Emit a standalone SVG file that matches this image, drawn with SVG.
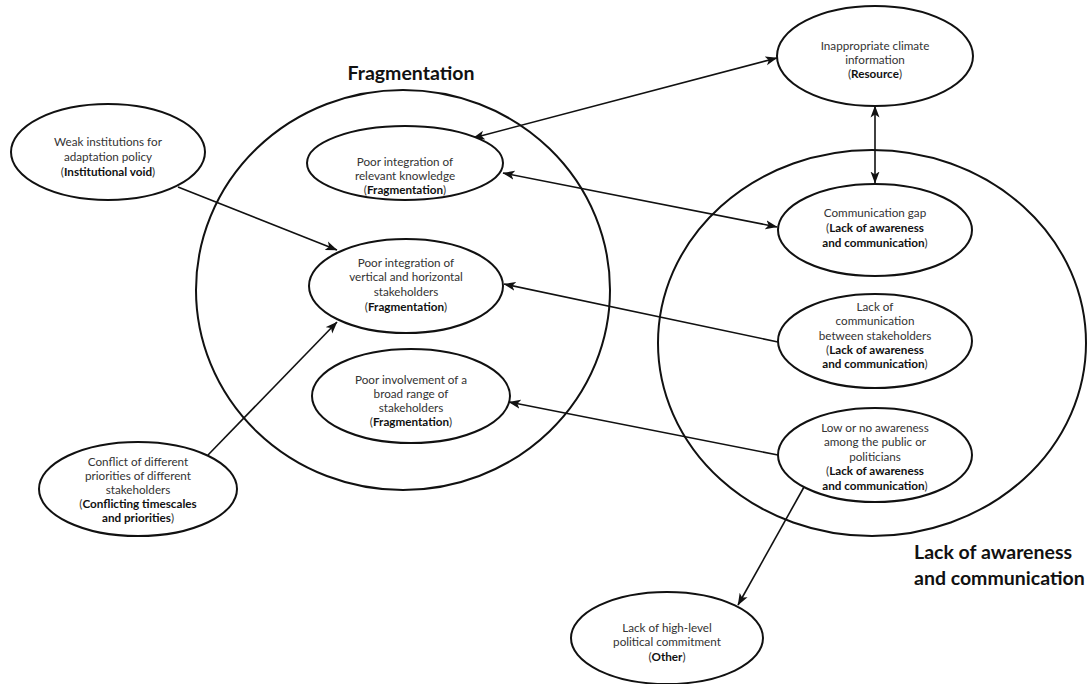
<svg xmlns="http://www.w3.org/2000/svg" width="1092" height="684" viewBox="0 0 1092 684">
<style>
.bg{fill:#fff}
.big{fill:none;stroke:#111;stroke-width:2}
.node ellipse{fill:#fff;stroke:#111;stroke-width:2}
.t{font-family:Lato,"Liberation Sans",sans-serif;font-size:11.7px;fill:#333;text-anchor:middle}
.t .b{font-weight:bold;fill:#111}
.title{font-family:Lato,"Liberation Sans",sans-serif;font-weight:bold;font-size:19.5px;fill:#111}
.conn line{stroke:#111;stroke-width:1.6;fill:none}
.one{marker-end:url(#ah)}
.two{marker-end:url(#ah);marker-start:url(#ah)}
</style>
<defs>
<marker id="ah" viewBox="0 0 12 10" refX="11.5" refY="5" markerWidth="12" markerHeight="10" markerUnits="userSpaceOnUse" orient="auto-start-reverse">
<path d="M0,0.5 L12,5 L0,9.5 L3,5 Z" fill="#111"/>
</marker>
</defs>
<rect class="bg" x="0" y="0" width="1092" height="684"/>

<g id="frag-group">
<ellipse class="big" cx="403" cy="290" rx="207" ry="200"/>
<text class="title" x="411" y="80" text-anchor="middle">Fragmentation</text>
</g>
<g id="lack-group">
<ellipse class="big" cx="872" cy="343" rx="214" ry="193"/>
<text class="title" x="914" y="559">Lack of awareness</text>
<text class="title" x="914" y="585">and communication</text>
</g>

<g id="connectors" class="conn">
<line class="one" x1="178" y1="187" x2="337" y2="250"/>
<line class="one" x1="208" y1="455" x2="337" y2="322"/>
<line class="two" x1="777" y1="58" x2="473" y2="138"/>
<line class="two" x1="503" y1="173" x2="777" y2="227"/>
<line class="two" x1="875" y1="106" x2="875" y2="183"/>
<line class="one" x1="778" y1="342" x2="504" y2="284"/>
<line class="one" x1="778" y1="455" x2="509" y2="402"/>
<line class="one" x1="804" y1="487" x2="738" y2="605"/>
</g>

<g id="weak" class="node">
<ellipse cx="108" cy="152" rx="97" ry="48"/>
<text class="t" x="108" y="146">Weak institutions for</text>
<text class="t" x="108" y="161">adaptation policy</text>
<text class="t" x="108" y="176">(<tspan class="b">Institutional void</tspan>)</text>
</g>
<g id="relevant" class="node">
<ellipse cx="405" cy="163" rx="98" ry="37"/>
<text class="t" x="405" y="166">Poor integration of</text>
<text class="t" x="405" y="180">relevant knowledge</text>
<text class="t" x="405" y="194">(<tspan class="b">Fragmentation</tspan>)</text>
</g>
<g id="vertical" class="node">
<ellipse cx="406" cy="286" rx="97" ry="47"/>
<text class="t" x="406" y="267">Poor integration of</text>
<text class="t" x="406" y="281">vertical and horizontal</text>
<text class="t" x="406" y="296">stakeholders</text>
<text class="t" x="406" y="311">(<tspan class="b">Fragmentation</tspan>)</text>
</g>
<g id="involvement" class="node">
<ellipse cx="411" cy="396" rx="99" ry="47"/>
<text class="t" x="411" y="384">Poor involvement of a</text>
<text class="t" x="411" y="398">broad range of</text>
<text class="t" x="411" y="412">stakeholders</text>
<text class="t" x="411" y="426">(<tspan class="b">Fragmentation</tspan>)</text>
</g>
<g id="conflict" class="node">
<ellipse cx="138" cy="489" rx="99" ry="47"/>
<text class="t" x="138" y="466">Conflict of different</text>
<text class="t" x="138" y="480">priorities of different</text>
<text class="t" x="138" y="494">stakeholders</text>
<text class="t" x="138" y="508">(<tspan class="b">Conflicting timescales</tspan></text>
<text class="t" x="138" y="522"><tspan class="b">and priorities</tspan>)</text>
</g>
<g id="climate" class="node">
<ellipse cx="875" cy="56" rx="98" ry="50"/>
<text class="t" x="875" y="50">Inappropriate climate</text>
<text class="t" x="875" y="64">information</text>
<text class="t" x="875" y="78">(<tspan class="b">Resource</tspan>)</text>
</g>
<g id="commgap" class="node">
<ellipse cx="875" cy="230" rx="97" ry="46"/>
<text class="t" x="875" y="217">Communication gap</text>
<text class="t" x="875" y="232">(<tspan class="b">Lack of awareness</tspan></text>
<text class="t" x="875" y="247"><tspan class="b">and communication</tspan>)</text>
</g>
<g id="between" class="node">
<ellipse cx="875" cy="341" rx="97" ry="47"/>
<text class="t" x="875" y="311">Lack of</text>
<text class="t" x="875" y="325">communication</text>
<text class="t" x="875" y="340">between stakeholders</text>
<text class="t" x="875" y="354">(<tspan class="b">Lack of awareness</tspan></text>
<text class="t" x="875" y="368"><tspan class="b">and communication</tspan>)</text>
</g>
<g id="awareness" class="node">
<ellipse cx="875" cy="455" rx="97" ry="47"/>
<text class="t" x="875" y="432">Low or no awareness</text>
<text class="t" x="875" y="446">among the public or</text>
<text class="t" x="875" y="461">politicians</text>
<text class="t" x="875" y="475">(<tspan class="b">Lack of awareness</tspan></text>
<text class="t" x="875" y="490"><tspan class="b">and communication</tspan>)</text>
</g>
<g id="commitment" class="node">
<ellipse cx="667" cy="638" rx="96" ry="46"/>
<text class="t" x="667" y="632">Lack of high-level</text>
<text class="t" x="667" y="646">political commitment</text>
<text class="t" x="667" y="661">(<tspan class="b">Other</tspan>)</text>
</g>
</svg>
